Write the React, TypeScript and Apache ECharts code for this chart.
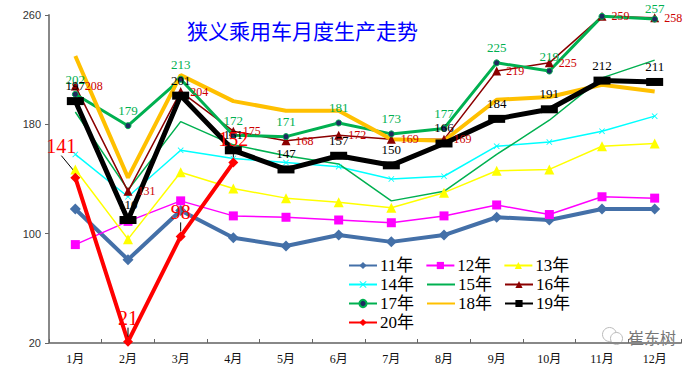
import React, { useEffect, useRef } from "react";
import * as echarts from "echarts";

const months = ["1月", "2月", "3月", "4月", "5月", "6月", "7月", "8月", "9月", "10月", "11月", "12月"];
const yearNames = ["11年", "12年", "13年", "14年", "15年", "16年", "17年", "18年", "19年", "20年"];
const y11 = [118, 81, 117, 97, 91, 99, 94, 99, 112, 110, 118, 118];
const y12 = [92, 109, 124, 113, 112, 110, 108, 113, 121, 114, 127, 126];
const y13 = [147, 96, 145, 133, 126, 123, 119, 130, 146, 147, 164, 166];
const y14 = [158, 127, 161, 155, 152, 149, 140, 142, 164, 167, 175, 186];
const y15 = [189, 132, 182, 165, 157, 151, 124, 131, 158, 183, 214, 227];
const y16 = [208, 131, 204, 175, 168, 172, 169, 169, 219, 225, 259, 258];
const y17 = [202, 179, 213, 172, 171, 181, 173, 177, 225, 219, 259, 257];
const y18 = [230, 141, 216, 197, 190, 190, 169, 168, 198, 200, 209, 204];
const y19 = [197, 110, 201, 161, 147, 157, 150, 166, 184, 191, 212, 211];
const y20 = [141, 21, 98, 152];
const yTicks = { min: 20, max: 260, interval: 80 };

const SERIF = "Liberation Serif, Noto Sans CJK SC";
const CROSS = "path://M0,1L1,0L5,4L9,0L10,1L6,5L10,9L9,10L5,6L1,10L0,9L4,5Z";
const NO_MARK = ["15年", "18年"];

export default function App() {
  const ref = useRef<HTMLDivElement>(null);
  useEffect(() => {
    if (!ref.current) return;
    const chart = echarts.init(ref.current, null, { renderer: "svg" });
    const lbl = (color: string, position: string, size = 12) => ({
      show: true,
      position,
      color,
      fontSize: size,
      fontFamily: SERIF,
    });
    const series: any[] = [
      {
        name: yearNames[0], type: "line", data: y11, symbol: "diamond", symbolSize: 11,
        lineStyle: { color: "#4470A8", width: 4 }, itemStyle: { color: "#4470A8" },
      },
      {
        name: yearNames[1], type: "line", data: y12, symbol: "rect", symbolSize: 9,
        lineStyle: { color: "#FF00FF", width: 1.5 }, itemStyle: { color: "#FF00FF" },
      },
      {
        name: yearNames[2], type: "line", data: y13, symbol: "triangle", symbolSize: 10,
        lineStyle: { color: "#FFFF00", width: 1.5 }, itemStyle: { color: "#FFFF00" },
      },
      {
        name: yearNames[3], type: "line", data: y14, symbol: CROSS, symbolSize: 6,
        lineStyle: { color: "#00FFFF", width: 1.5 }, itemStyle: { color: "#00FFFF" },
      },
      {
        name: yearNames[4], type: "line", data: y15, symbol: "none",
        lineStyle: { color: "#00B050", width: 1.5 }, itemStyle: { color: "#00B050" },
        label: lbl("#00B050", "bottom", 11),
      },
      {
        name: yearNames[5], type: "line", data: y16, symbol: "triangle", symbolSize: 9,
        lineStyle: { color: "#8B0000", width: 1.5 }, itemStyle: { color: "#8B0000" },
        label: lbl("#CC0000", "right"),
      },
      {
        name: yearNames[6], type: "line",
        data: y17.map((v, i) =>
          i === 10 ? { value: v, label: { show: false } } : i === 11 ? { value: v, label: { distance: 1 } } : v
        ),
        symbol: "circle", symbolSize: 6,
        lineStyle: { color: "#00B050", width: 3 },
        itemStyle: { color: "#1F2A60", borderColor: "#00B050", borderWidth: 1 },
        label: lbl("#00B050", "top", 13),
      },
      {
        name: yearNames[7], type: "line", data: y18, symbol: "none",
        lineStyle: { color: "#FFC000", width: 4 }, itemStyle: { color: "#FFC000" },
        label: lbl("#FFC000", "top", 13),
      },
      {
        name: yearNames[8], type: "line", data: y19, symbol: "rect", symbolSize: [17, 8],
        lineStyle: { color: "#000000", width: 5 }, itemStyle: { color: "#000000" },
        label: lbl("#000000", "top", 13),
      },
      {
        name: yearNames[9], type: "line", data: y20, symbol: "diamond", symbolSize: 10,
        lineStyle: { color: "#FF0000", width: 4 }, itemStyle: { color: "#FF0000" },
        label: { ...lbl("#FF0000", "top", 20), distance: 9 },
        labelLayout: (p: any) => (p.dataIndex === 0 ? { dx: -14, dy: -8 } : {}),
        labelLine: { show: true, lineStyle: { color: "#000", width: 1 } },
      },
    ];
    const legendBase = {
      left: 348,
      itemWidth: 28,
      itemHeight: 9,
      itemGap: 12,
      padding: 0,
      textStyle: { fontSize: 17, fontFamily: SERIF, color: "#000", padding: [0, 0, 0, -2] },
    };
    const legendData = (names: string[]) =>
      names.map((n) => (NO_MARK.includes(n) ? { name: n, itemStyle: { opacity: 0 } } : { name: n }));
    chart.setOption({
      animation: false,
      backgroundColor: "#fff",
      title: {
        text: "狭义乘用车月度生产走势",
        left: 187,
        top: 19,
        padding: 0,
        textStyle: { color: "#0000FF", fontSize: 21, fontWeight: "normal", fontFamily: "Noto Sans CJK SC" },
      },
      legend: [
        { ...legendBase, top: 257, data: legendData(yearNames.slice(0, 3)) },
        { ...legendBase, top: 276, data: legendData(yearNames.slice(3, 6)) },
        { ...legendBase, top: 295, data: legendData(yearNames.slice(6, 9)) },
        { ...legendBase, top: 314, data: legendData(yearNames.slice(9, 10)) },
      ],
      grid: { left: 49, right: 19, top: 15, bottom: 26 },
      xAxis: {
        type: "category",
        data: months,
        boundaryGap: true,
        axisLine: { lineStyle: { color: "#888", width: 2 } },
        axisTick: { show: true, inside: true, length: 4, lineStyle: { color: "#666" } },
        axisLabel: { color: "#111", fontSize: 12, fontFamily: SERIF, margin: 10 },
        splitLine: { show: false },
      },
      yAxis: {
        type: "value",
        min: yTicks.min,
        max: yTicks.max,
        interval: yTicks.interval,
        axisLine: { show: true, lineStyle: { color: "#888", width: 2 } },
        axisTick: { show: true, length: 4, lineStyle: { color: "#666" } },
        axisLabel: { color: "#333", fontSize: 11, fontFamily: "Liberation Sans", margin: 8 },
        splitLine: { show: false },
      },
      graphic: [
        { type: "circle", left: 600, top: 325, shape: { r: 7 }, style: { fill: "none", stroke: "#bbb", lineWidth: 1 } },
        { type: "circle", left: 610, top: 332, shape: { r: 6 }, style: { fill: "#fff", stroke: "#bbb", lineWidth: 1 } },
        { type: "text", left: 628, top: 329, style: { text: "崔东树", fill: "#777", font: "16px Noto Sans CJK SC" } },
      ],
      series,
    });
    return () => chart.dispose();
  }, []);
  return <div ref={ref} style={{ position: "fixed", left: 0, top: 0, width: 700, height: 369 }} />;
}
